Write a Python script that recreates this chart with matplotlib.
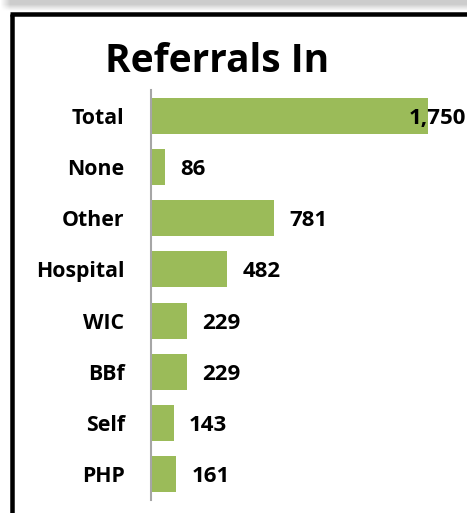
import numpy as np
import matplotlib.pyplot as plt
from matplotlib.lines import Line2D

categories = ['Total', 'None', 'Other', 'Hospital', 'WIC', 'BBf', 'Self', 'PHP']
values = [1750, 86, 781, 482, 229, 229, 143, 161]
title = 'Referrals In'

W, H = 467, 513
plt.rcParams['font.family'] = ['Open Sans', 'DejaVu Sans']
plt.rcParams['font.weight'] = 'bold'

fig = plt.figure(figsize=(W / 100, H / 100), dpi=100)
fig.patch.set_facecolor('white')

# gray shadow strip across the top
sh = fig.add_axes([0, 1 - 12 / H, 1, 12 / H])
yy = np.linspace(0, 1, 12)[:, None]
xx = np.linspace(0, W, W)[None, :]
shade = 0.80 + 0.20 * np.clip((yy - 0.35) / 0.6, 0, 1)
shade = shade + (1 - shade) * np.clip((10 - xx) / 10, 0, 1)
sh.imshow(shade, cmap='gray', vmin=0, vmax=1, aspect='auto', interpolation='bilinear')
sh.axis('off')

# black frame (left and top)
lw = 4.5 * 72 / 100
fx, fy = 12 / W, 1 - 13.5 / H
fig.add_artist(Line2D([fx, fx], [0, fy], transform=fig.transFigure, color='black', lw=lw,
                      solid_capstyle='butt'))
fig.add_artist(Line2D([fx - 2.25 / W, 1], [fy, fy], transform=fig.transFigure, color='black', lw=lw,
                      solid_capstyle='butt'))

ax = fig.add_axes([151 / W, 13 / H, (W - 151) / W, (500 - 90) / H])
y = np.arange(len(categories))
ax.barh(y, values, height=0.7, color='#9BBB59')
ax.set_ylim(len(categories) - 0.5, -0.5)
ax.set_xlim(0, 2000)
ax.set_yticks(y)
ax.set_yticklabels(categories, fontsize=15.3, fontweight='bold')
ax.tick_params(axis='y', length=0, pad=19)
ax.set_xticks([])
for s in ['top', 'right', 'bottom']:
    ax.spines[s].set_visible(False)
ax.spines['left'].set_color('#a6a6a6')
ax.spines['left'].set_linewidth(1.5)
ax.set_facecolor('none')

fs = 16
dy = -0.714 * fs / 2
for i, v in enumerate(values):
    lab = f'{v:,}'
    if v > 1500:
        ax.annotate(lab, (1, i), xycoords=('axes fraction', 'data'), xytext=(-1, dy),
                    textcoords='offset points', ha='right', va='baseline',
                    fontsize=fs, fontweight='bold')
    else:
        ax.annotate(lab, (v, i), xytext=(11, dy), textcoords='offset points',
                    ha='left', va='baseline', fontsize=fs, fontweight='bold')

fig.text(217.5 / W, 1 - 72 / H, title, ha='center', va='baseline', fontsize=28, fontweight='bold')

fig.savefig('out.png', dpi=100)
